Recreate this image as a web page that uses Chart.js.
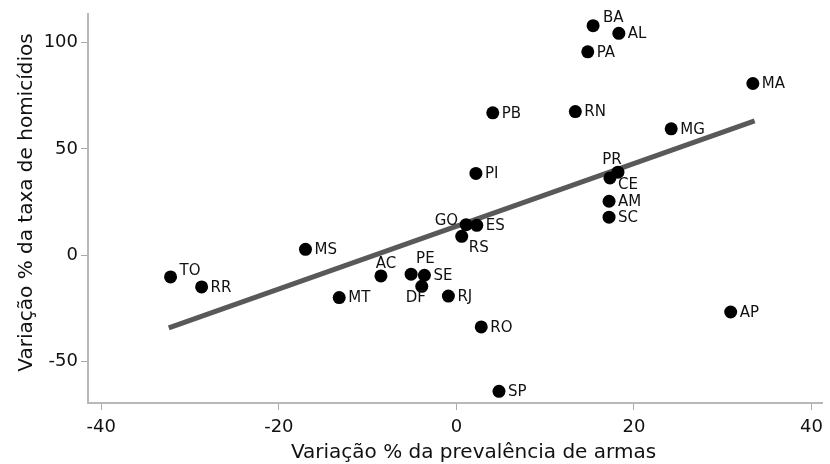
<!DOCTYPE html>
<html>
<head>
<meta charset="utf-8">
<script src="https://cdn.jsdelivr.net/npm/chart.js@4"></script>
<style>
  html, body { margin: 0; padding: 0; background: #fff; }
  #wrap { width: 830px; height: 464px; }
</style>
</head>
<body>
<div id="wrap"><canvas id="chart" width="830" height="464"></canvas></div>
<script>
// estados e variações
const states = ["BA", "AL", "PA", "MA", "PB", "RN", "MG", "PR", "CE", "PI", "AM", "SC", "GO", "ES",
  "RS", "AC", "PE", "SE", "DF", "RJ", "MS", "TO", "RR", "MT", "AP", "RO", "SP"];
const armas = [15.4, 18.3, 14.8, 33.4, 4.1, 13.4, 24.2, 18.2, 17.3, 2.2, 17.2, 17.2, 1.1, 2.3,
  0.6, -8.5, -5.1, -3.6, -3.9, -0.9, -17.0, -32.2, -28.7, -13.2, 30.9, 2.8, 4.8];
const homicidios = [108.0, 104.4, 95.7, 80.8, 67.0, 67.6, 59.5, 39.1, 36.4, 38.5, 25.4, 17.9, 14.4, 14.1,
  8.9, -9.7, -8.9, -9.4, -14.6, -19.2, 2.8, -10.2, -14.9, -19.9, -26.7, -33.7, -64.0];

// reta de regressão (extremos)
const trendX = [-32.4, 33.6];
const trendY = [-34.2, 63.2];

const xTitle = "Variação % da prevalência de armas";
const yTitle = "Variação % da taxa de homicídios";

const FONT = "'DejaVu Sans', sans-serif";

// deslocamento dos rótulos em px: [dx, dy, align]
const labelPos = {
  BA: [10, -8, "left"], PR: [-6, -12, "center"], CE: [8, 7, "left"], GO: [-8, -4, "right"],
  RS: [7, 12, "left"], AC: [5, -12, "center"], PE: [5, -15, "left"], DF: [-6, 12, "center"],
  TO: [9, -6, "left"]
};

const pointLabels = {
  id: "pointLabels",
  afterDatasetsDraw(chart) {
    const ctx = chart.ctx;
    const meta = chart.getDatasetMeta(0);
    ctx.save();
    ctx.font = "15px " + FONT;
    ctx.fillStyle = "#111";
    ctx.textBaseline = "middle";
    meta.data.forEach((pt, i) => {
      const p = labelPos[states[i]] || [9, 1, "left"];
      ctx.textAlign = p[2];
      ctx.fillText(states[i], pt.x + p[0], pt.y + p[1]);
    });
    ctx.restore();
  }
};

// títulos dos eixos (um pouco fora do centro, como no original)
const axisTitles = {
  id: "axisTitles",
  afterDraw(chart) {
    const ctx = chart.ctx;
    const a = chart.chartArea;
    ctx.save();
    ctx.font = "20px " + FONT;
    ctx.fillStyle = "#111";
    ctx.textAlign = "center";
    ctx.textBaseline = "alphabetic";
    ctx.fillText(xTitle, (a.left + a.right) / 2 + 18, 458);
    ctx.translate(31.5, (a.top + a.bottom) / 2 - 6);
    ctx.rotate(-Math.PI / 2);
    ctx.fillText(yTitle, 0, 0);
    ctx.restore();
  }
};

const ctx = document.getElementById("chart").getContext("2d");
new Chart(ctx, {
  type: "scatter",
  data: {
    datasets: [
      {
        label: "Estados",
        data: states.map((s, i) => ({ x: armas[i], y: homicidios[i] })),
        backgroundColor: "#000",
        borderWidth: 0,
        pointRadius: 6.5,
        order: 0
      },
      {
        type: "line",
        label: "Ajuste",
        data: trendX.map((x, i) => ({ x: x, y: trendY[i] })),
        borderColor: "#595959",
        borderWidth: 5,
        pointRadius: 0,
        fill: false,
        order: 1
      }
    ]
  },
  options: {
    responsive: false,
    animation: false,
    layout: { padding: { top: 14, right: 4, left: 0, bottom: 0 } },
    plugins: { legend: { display: false }, tooltip: { enabled: false } },
    scales: {
      x: {
        type: "linear",
        min: -41.5,
        max: 41.3,
        afterFit: (s) => { s.height = 61; },
        ticks: {
          stepSize: 20,
          includeBounds: false,
          padding: 7,
          color: "#111",
          font: { family: FONT, size: 18 }
        },
        grid: { drawOnChartArea: false, drawTicks: true, tickLength: 7, color: "#aaaaaa", lineWidth: 1 },
        border: { display: true, color: "#b8b8b8", width: 2 }
      },
      y: {
        type: "linear",
        min: -69.5,
        max: 113.5,
        afterFit: (s) => { s.width = 88; },
        ticks: {
          stepSize: 50,
          includeBounds: false,
          padding: 3,
          color: "#111",
          font: { family: FONT, size: 18 }
        },
        grid: { drawOnChartArea: false, drawTicks: true, tickLength: 7, color: "#aaaaaa", lineWidth: 1 },
        border: { display: true, color: "#b8b8b8", width: 2 }
      }
    }
  },
  plugins: [pointLabels, axisTitles]
});
</script>
</body>
</html>
